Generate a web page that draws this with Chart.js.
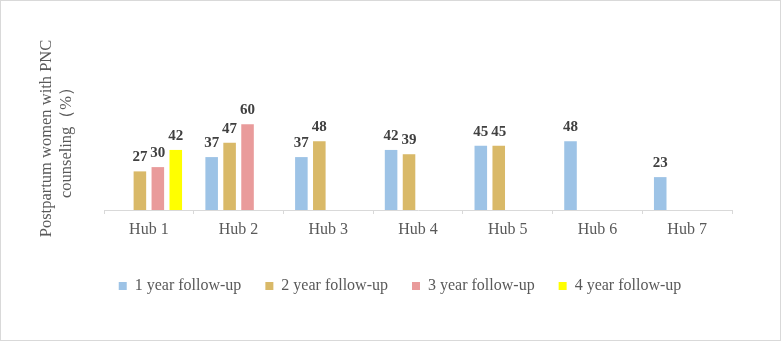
<!DOCTYPE html>
<html>
<head>
<meta charset="utf-8">
<script src="https://cdn.jsdelivr.net/npm/chart.js@4/dist/chart.umd.min.js"></script>
<style>
  html, body { margin: 0; padding: 0; background: #fff; }
  #wrap { position: absolute; left: 0; top: 0; width: 781px; height: 341px; box-sizing: border-box; border: 1px solid #d9d9d9; }
  #wrap canvas { display: block; }
</style>
</head>
<body>
<div id="wrap"><canvas id="c"></canvas></div>
<script>
const categories = ['Hub 1', 'Hub 2', 'Hub 3', 'Hub 4', 'Hub 5', 'Hub 6', 'Hub 7'];
const seriesNames = ['1 year follow-up', '2 year follow-up', '3 year follow-up', '4 year follow-up'];
const year1 = [null, 37, 37, 42, 45, 48, 23];
const year2 = [27, 47, 48, 39, 45, null, null];
const year3 = [30, 60, null, null, null, null, null];
const year4 = [42, null, null, null, null, null, null];
const yTitle = ['Postpartum women with PNC', 'counseling（%）'];

const colors = ['#9DC3E6', '#D9B968', '#E99B9B', '#FFFF00'];
const FONT = "'Liberation Serif', 'Times New Roman', serif";

const valueLabels = {
  id: 'valueLabels',
  afterDatasetsDraw(chart) {
    const ctx = chart.ctx;
    ctx.save();
    ctx.font = 'bold 15px ' + FONT;
    ctx.fillStyle = '#404040';
    ctx.textAlign = 'center';
    ctx.textBaseline = 'alphabetic';
    chart.data.datasets.forEach((ds, i) => {
      const meta = chart.getDatasetMeta(i);
      meta.data.forEach((el, j) => {
        const v = ds.data[j];
        if (v === null || v === undefined) return;
        ctx.fillText(String(v), el.x, el.y - 10);
      });
    });
    ctx.restore();
  }
};

const legendShift = {
  id: 'legendShift',
  afterLayout(chart) {
    const lg = chart.legend;
    if (!lg) return;
    const dx = 399 - (lg.left + lg.right) / 2;
    lg.left += dx;
    lg.right += dx;
  }
};

new Chart(document.getElementById('c'), {
  type: 'bar',
  data: {
    labels: categories,
    datasets: [
      { label: seriesNames[0], data: year1, backgroundColor: colors[0] },
      { label: seriesNames[1], data: year2, backgroundColor: colors[1] },
      { label: seriesNames[2], data: year3, backgroundColor: colors[2] },
      { label: seriesNames[3], data: year4, backgroundColor: colors[3] }
    ]
  },
  options: {
    responsive: true,
    maintainAspectRatio: false,
    animation: false,
    datasets: { bar: { categoryPercentage: 0.8, barPercentage: 0.7, borderWidth: 0 } },
    layout: { padding: { left: 10, right: 48, top: 66, bottom: 36 } },
    scales: {
      x: {
        grid: { display: true, drawOnChartArea: false, drawTicks: true, tickLength: 4, color: '#D9D9D9', offset: true },
        border: { display: true, color: '#D9D9D9', width: 1 },
        ticks: { font: { family: FONT, size: 16 }, color: '#595959', padding: 6 },
        afterFit(scale) { scale.height = 44; }
      },
      y: {
        min: 0, max: 100,
        grid: { display: false, drawTicks: false },
        border: { display: false },
        ticks: { display: false },
        title: { display: true, text: yTitle, color: '#595959', font: { family: FONT, size: 16.5, lineHeight: 1.2 }, padding: { top: 26, bottom: 0 } },
        afterFit(scale) { scale.width = 93; }
      }
    },
    plugins: {
      tooltip: { enabled: false },
      legend: {
        position: 'bottom',
        labels: { boxWidth: 8, boxHeight: 8, padding: 24, color: '#595959', font: { family: FONT, size: 16 } }
      }
    }
  },
  plugins: [valueLabels, legendShift]
});
</script>
</body>
</html>
